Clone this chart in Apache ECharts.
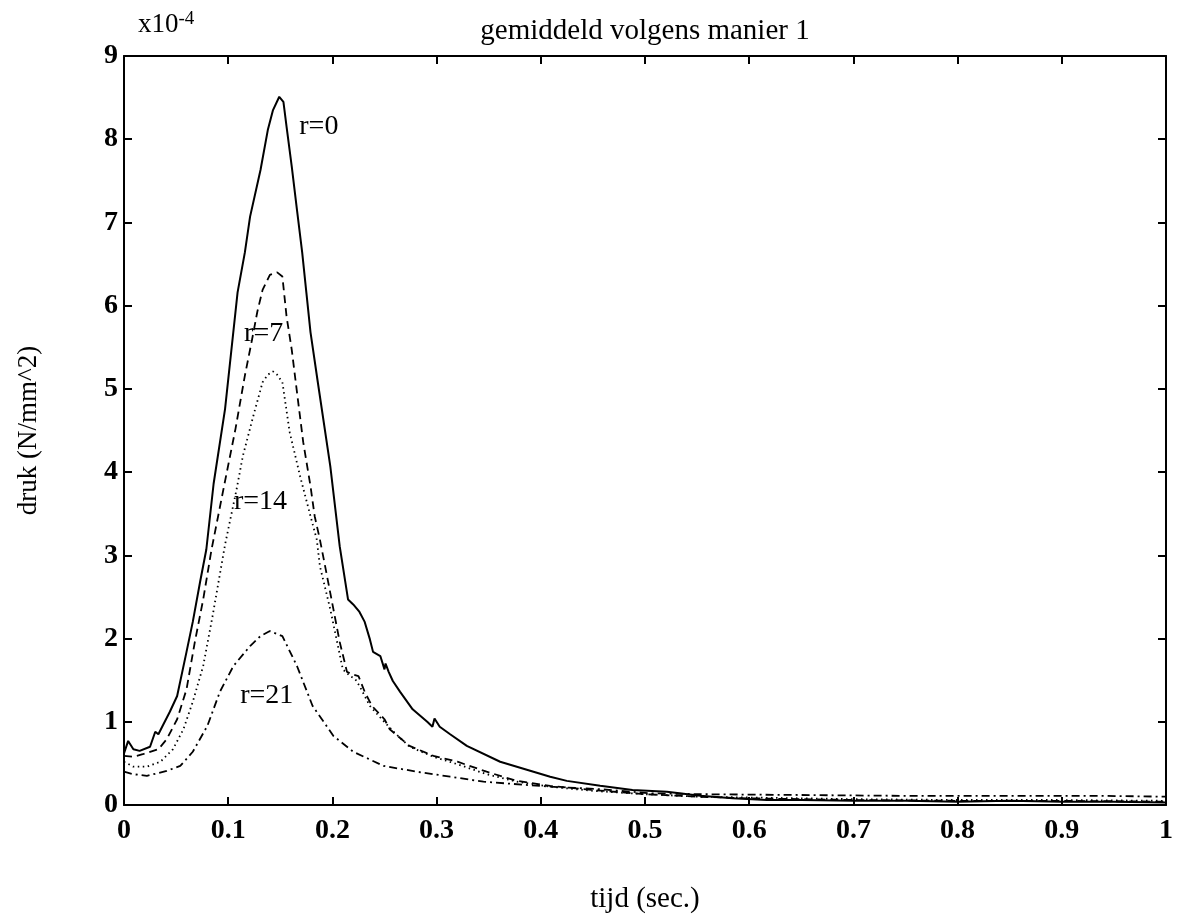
<!DOCTYPE html>
<html>
<head>
<meta charset="utf-8">
<script src="https://cdn.jsdelivr.net/npm/echarts@6/dist/echarts.min.js"></script>
<style>
html,body{margin:0;padding:0;background:#fff;}
#chart{width:1177px;height:919px;}
</style>
</head>
<body>
<div id="chart"></div>
<script>
// ---- data (time in s, pressure in 1e-4 N/mm^2) ----
var t0 = [0,0.004,0.009,0.015,0.025,0.030,0.033,0.037,0.044,0.051,0.060,0.066,0.073,0.079,0.086,0.097,0.109,0.116,0.121,0.131,0.138,0.143,0.149,0.153,0.156,0.161,0.166,0.171,0.175,0.179,0.186,0.198,0.207,0.210,0.215,0.220,0.226,0.231,0.236,0.239,0.246,0.250,0.251,0.254,0.258,0.265,0.277,0.291,0.296,0.298,0.303,0.313,0.329,0.361,0.393,0.409,0.425,0.457,0.488,0.521,0.553,0.584,0.617,0.65,0.7,0.75,0.8,0.85,0.9,0.95,1.0];
var v0 = [0.62,0.77,0.67,0.65,0.70,0.88,0.85,0.95,1.12,1.31,1.84,2.20,2.68,3.07,3.86,4.76,6.16,6.64,7.07,7.63,8.11,8.35,8.51,8.45,8.15,7.67,7.15,6.64,6.16,5.68,5.08,4.07,3.11,2.87,2.47,2.41,2.32,2.20,1.99,1.84,1.79,1.63,1.70,1.60,1.49,1.36,1.15,1.00,0.94,1.04,0.94,0.85,0.71,0.52,0.40,0.34,0.29,0.23,0.18,0.16,0.11,0.08,0.06,0.06,0.05,0.05,0.04,0.05,0.04,0.04,0.03];
var t7 = [0,0.009,0.018,0.033,0.041,0.051,0.060,0.068,0.076,0.084,0.096,0.107,0.116,0.123,0.128,0.133,0.140,0.147,0.152,0.156,0.161,0.166,0.172,0.179,0.183,0.188,0.193,0.201,0.207,0.214,0.219,0.225,0.231,0.238,0.250,0.255,0.274,0.297,0.320,0.348,0.377,0.409,0.45,0.5,0.55,0.6,0.7,0.8,0.9,1.0];
var v7 = [0.59,0.58,0.61,0.67,0.79,1.03,1.39,1.96,2.47,3.07,3.83,4.52,5.16,5.60,5.93,6.19,6.37,6.40,6.35,5.87,5.47,4.96,4.36,3.83,3.47,3.19,2.87,2.35,1.96,1.60,1.57,1.55,1.36,1.19,1.03,0.91,0.71,0.59,0.52,0.40,0.29,0.23,0.18,0.13,0.10,0.08,0.06,0.05,0.05,0.04];
var t14 = [0,0.009,0.022,0.035,0.047,0.057,0.066,0.076,0.085,0.097,0.108,0.114,0.124,0.133,0.138,0.143,0.147,0.152,0.159,0.169,0.179,0.185,0.188,0.198,0.210,0.217,0.222,0.226,0.236,0.249,0.258,0.274,0.297,0.320,0.348,0.377,0.409,0.45,0.5,0.55,0.6,0.7,0.8,0.9,1.0];
var v14 = [0.52,0.46,0.46,0.52,0.67,0.91,1.24,1.67,2.27,3.13,3.79,4.19,4.67,5.08,5.17,5.21,5.17,5.08,4.48,3.95,3.47,3.19,2.87,2.35,1.63,1.55,1.51,1.43,1.19,1.01,0.89,0.70,0.58,0.49,0.37,0.28,0.22,0.17,0.13,0.10,0.09,0.07,0.06,0.06,0.05];
var t21 = [0,0.009,0.022,0.041,0.054,0.066,0.080,0.092,0.105,0.121,0.131,0.140,0.146,0.152,0.166,0.181,0.201,0.220,0.249,0.281,0.313,0.345,0.409,0.457,0.505,0.553,0.649,0.745,0.841,0.937,1.0];
var v21 = [0.40,0.37,0.35,0.41,0.47,0.64,0.95,1.36,1.67,1.91,2.03,2.09,2.06,2.03,1.67,1.19,0.83,0.64,0.47,0.40,0.34,0.28,0.22,0.19,0.14,0.13,0.12,0.11,0.11,0.11,0.10];
var curveLabels = ['r=0','r=7','r=14','r=21'];
var labelT = [0.187,0.134,0.131,0.137];
var labelV = [8.15,5.66,3.64,1.32];

function pairs(t,v){ return t.map(function(x,i){ return [x, v[i]]; }); }

var FONT = '"Liberation Serif","DejaVu Serif",serif';
var chart = echarts.init(document.getElementById('chart'), null, {renderer:'canvas'});

function lineSeries(name, t, v, type, w){
  return {
    name:name, type:'line', data:pairs(t,v), showSymbol:false, symbol:'none',
    xAxisIndex:0, yAxisIndex:0, animation:false, silent:true,
    lineStyle:{color:'#000', width:w, type:type}
  };
}

var option = {
  backgroundColor:'#fff',
  animation:false,
  grid:{left:124, right:11, top:56, bottom:113, containLabel:false},
  xAxis:[{
    type:'value', min:0, max:1, interval:0.1, position:'bottom',
    axisLine:{show:true, onZero:false, lineStyle:{color:'#000', width:2}},
    axisTick:{show:true, inside:true, length:8, lineStyle:{color:'#000', width:2}},
    axisLabel:{color:'#000', fontFamily:FONT, fontSize:28, fontWeight:'bold', margin:12,
      formatter:function(v){ return String(+v.toFixed(1)); }},
    splitLine:{show:false},
    name:'tijd (sec.)', nameLocation:'middle', nameGap:80,
    nameTextStyle:{color:'#000', fontFamily:FONT, fontSize:29}
  },{
    type:'value', min:0, max:1, interval:0.1, position:'top',
    axisLine:{show:true, onZero:false, lineStyle:{color:'#000', width:2}},
    axisTick:{show:true, inside:true, length:8, lineStyle:{color:'#000', width:2}},
    axisLabel:{show:false}, splitLine:{show:false}
  }],
  yAxis:[{
    type:'value', min:0, max:9, interval:1, position:'left',
    axisLine:{show:true, onZero:false, lineStyle:{color:'#000', width:2}},
    axisTick:{show:true, inside:true, length:8, lineStyle:{color:'#000', width:2}},
    axisLabel:{color:'#000', fontFamily:FONT, fontSize:28, fontWeight:'bold', margin:6},
    splitLine:{show:false},
    name:'druk (N/mm^2)', nameLocation:'middle', nameGap:82, nameRotate:90,
    nameTextStyle:{color:'#000', fontFamily:FONT, fontSize:27}
  },{
    type:'value', min:0, max:9, interval:1, position:'right',
    axisLine:{show:true, onZero:false, lineStyle:{color:'#000', width:2}},
    axisTick:{show:true, inside:true, length:8, lineStyle:{color:'#000', width:2}},
    axisLabel:{show:false}, splitLine:{show:false}
  }],
  series:[
    lineSeries('r=0', t0, v0, 'solid', 2),
    lineSeries('r=7', t7, v7, [8,5], 1.8),
    lineSeries('r=14', t14, v14, [1.5,3.5], 1.8),
    lineSeries('r=21', t21, v21, [8,4,2,4], 1.8)
  ],
  graphic:[
    {type:'text', x:645, y:31, style:{text:'gemiddeld volgens manier 1', fill:'#000',
      font:'29px '+FONT, textAlign:'center', textVerticalAlign:'middle'}},
    {type:'text', x:138, y:10, style:{
      rich:{a:{fontFamily:FONT, fontSize:27, fill:'#000'}, s:{fontFamily:FONT, fontSize:19, fill:'#000', verticalAlign:'top', padding:[0,0,10,0]}},
      text:'{a|x10}{s|-4}'}}
  ]
};
chart.setOption(option);

// curve labels placed at data coordinates through the axes
var labelGraphics = curveLabels.map(function(n,i){
  var p = chart.convertToPixel({xAxisIndex:0, yAxisIndex:0}, [labelT[i], labelV[i]]);
  return {type:'text', x:p[0], y:p[1], z:100, style:{text:n, fill:'#000',
    font:'28px '+FONT, textAlign:'center', textVerticalAlign:'middle'}};
});
chart.setOption({graphic: option.graphic.concat(labelGraphics)});
</script>
</body>
</html>
